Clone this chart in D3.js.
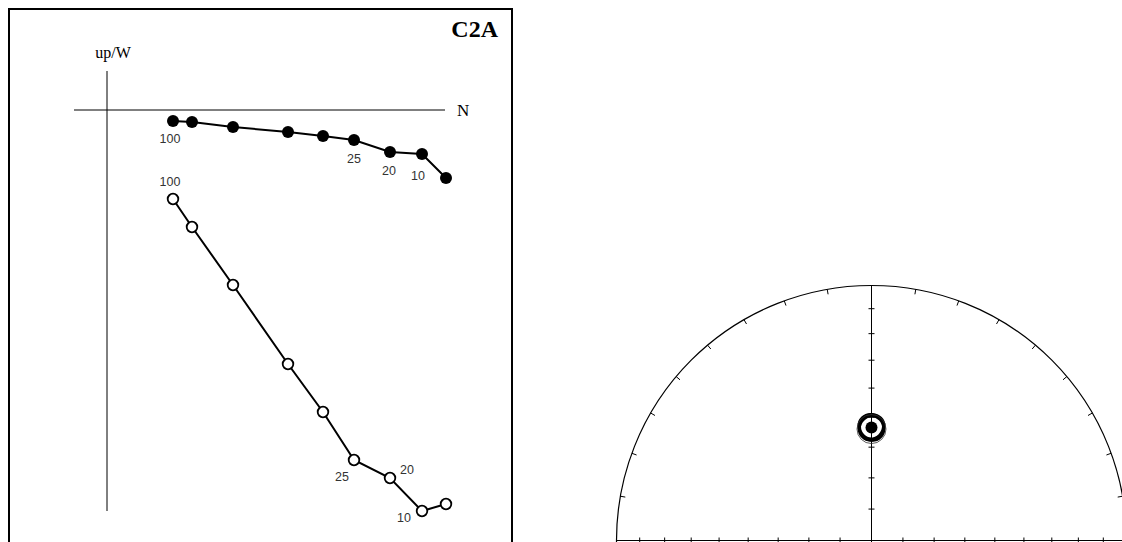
<!DOCTYPE html>
<html lang="en">
<head>
<meta charset="UTF-8">
<title>C2A</title>
<script src="https://d3js.org/d3.v7.min.js"></script>
<style>
  body { margin: 0; background: #fff; }
</style>
</head>
<body>
<script>
    // demag steps and vector components (arbitrary units)
    const steps = [100, 80, 60, 50, 40, 25, 20, 10, 5];
    const labelled = [100, 25, 20, 10];
    const north = [6.6, 8.5, 12.6, 18.1, 21.6, 24.7, 28.3, 31.5, 33.9];
    const west = [-1.1, -1.2, -1.7, -2.2, -2.6, -3.0, -4.2, -4.4, -6.8];
    const up = [-8.9, -11.7, -17.5, -25.4, -30.2, -35.0, -36.8, -40.1, -39.4];

    // stereonet directions per step (dec, inc) and mean
    const decs = [0.3, -0.4, 0.5, 0.0, -0.3, 0.4, 0.1, -0.5, 0.2];
    const incs = [53.3, 53.8, 53.1, 53.7, 53.2, 53.9, 53.5, 53.0, 53.6];
    const meanDir = { dec: 0.0, inc: 53.5 };
    const netTicks = [10, 20, 30, 40, 50, 60, 70, 80];

    const W = 1122, H = 542;
    const svg = d3.select("body").append("svg")
        .attr("width", W).attr("height", H);

    // ---------------- Zijderveld panel ----------------
    svg.append("rect")
        .attr("x", 9).attr("y", 9).attr("width", 503).attr("height", 560)
        .attr("fill", "none").attr("stroke", "#000").attr("stroke-width", 2);

    const x = d3.scaleLinear().domain([0, 10]).range([107, 207]);
    const y = d3.scaleLinear().domain([0, -10]).range([110, 210]);

    svg.append("line")
        .attr("x1", x(-3.3)).attr("x2", x(33.8)).attr("y1", y(0)).attr("y2", y(0))
        .attr("stroke", "#000").attr("stroke-width", 1);
    svg.append("line")
        .attr("x1", x(0)).attr("x2", x(0)).attr("y1", y(3.9)).attr("y2", y(-40.1))
        .attr("stroke", "#000").attr("stroke-width", 1);

    const serif = "Liberation Serif, Times New Roman, serif";
    svg.append("text").attr("x", 457).attr("y", 116)
        .attr("font-family", serif).attr("font-size", 17).text("N");
    svg.append("text").attr("x", 113).attr("y", 58)
        .attr("text-anchor", "middle")
        .attr("font-family", serif).attr("font-size", 16).text("up/W");
    svg.append("text").attr("x", 498).attr("y", 37)
        .attr("text-anchor", "end")
        .attr("font-family", serif).attr("font-weight", "bold")
        .attr("font-size", 24).text("C2A");

    const horiz = steps.map((s, i) => ({ s: s, n: north[i], v: west[i] }));
    const vert = steps.map((s, i) => ({ s: s, n: north[i], v: up[i] }));

    const line = d3.line().x(d => x(d.n)).y(d => y(d.v));

    svg.append("path").datum(horiz).attr("d", line)
        .attr("fill", "none").attr("stroke", "#000").attr("stroke-width", 2);
    svg.append("path").datum(vert).attr("d", line)
        .attr("fill", "none").attr("stroke", "#000").attr("stroke-width", 2);

    svg.selectAll(".hdot").data(horiz).enter().append("circle")
        .attr("cx", d => x(d.n)).attr("cy", d => y(d.v)).attr("r", 6)
        .attr("fill", "#000");
    svg.selectAll(".vdot").data(vert).enter().append("circle")
        .attr("cx", d => x(d.n)).attr("cy", d => y(d.v)).attr("r", 5.3)
        .attr("fill", "#fff").attr("stroke", "#000").attr("stroke-width", 1.8);

    // label placement offsets (px) from the point
    const hOff = { 100: [-3, 22], 25: [0, 23], 20: [-1, 23], 10: [-4, 26] };
    const vOff = { 100: [-3, -13], 25: [-12, 21], 20: [17, -4], 10: [-18, 11] };

    const lab = (data, off) => svg.selectAll(null)
        .data(data.filter(d => labelled.includes(d.s))).enter().append("text")
        .attr("x", d => x(d.n) + off[d.s][0]).attr("y", d => y(d.v) + off[d.s][1])
        .attr("text-anchor", "middle")
        .attr("font-family", "Liberation Sans, Arial, sans-serif")
        .attr("font-size", 12.5).attr("fill", "#333")
        .text(d => d.s);
    lab(horiz, hOff);
    lab(vert, vOff);

    // ---------------- equal-area stereonet ----------------
    const cx = 871.5, cy = 540.5, R = 255;
    const rad = Math.PI / 180;
    const eqArea = inc => R * Math.SQRT2 * Math.sin((90 - Math.abs(inc)) / 2 * rad);
    const proj = (dec, inc) => {
        const r = eqArea(inc);
        return [cx + r * Math.sin(dec * rad), cy - r * Math.cos(dec * rad)];
    };

    const net = svg.append("g");
    net.append("circle").attr("cx", cx).attr("cy", cy).attr("r", R)
        .attr("fill", "none").attr("stroke", "#000").attr("stroke-width", 1.2);
    net.append("line").attr("x1", cx - R).attr("x2", cx + R).attr("y1", cy).attr("y2", cy)
        .attr("stroke", "#000").attr("stroke-width", 1);
    net.append("line").attr("x1", cx).attr("x2", cx).attr("y1", cy - R).attr("y2", cy + R)
        .attr("stroke", "#000").attr("stroke-width", 1);

    // rim ticks every 10 degrees
    net.selectAll(".rim").data(d3.range(0, 360, 10)).enter().append("line")
        .attr("x1", a => cx + R * Math.sin(a * rad))
        .attr("y1", a => cy - R * Math.cos(a * rad))
        .attr("x2", a => cx + (R - 5) * Math.sin(a * rad))
        .attr("y2", a => cy - (R - 5) * Math.cos(a * rad))
        .attr("stroke", "#000").attr("stroke-width", 1);

    // axis ticks at inclination steps
    netTicks.forEach(inc => {
        const r = eqArea(inc);
        [[0, -r], [-r, 0], [r, 0]].forEach(([dx, dy]) => {
            net.append("line")
                .attr("x1", cx + dx - (dy ? 3 : 0)).attr("x2", cx + dx + (dy ? 3 : 0))
                .attr("y1", cy + dy - (dx ? 3 : 0)).attr("y2", cy + dy + (dx ? 3 : 0))
                .attr("stroke", "#000").attr("stroke-width", 1);
        });
    });

    const dirs = decs.map((d, i) => proj(d, incs[i]));
    net.selectAll(".dir").data(dirs).enter().append("circle")
        .attr("cx", d => d[0]).attr("cy", d => d[1]).attr("r", 12.3)
        .attr("fill", "none").attr("stroke", "#000").attr("stroke-width", 1.6);

    const m = proj(meanDir.dec, meanDir.inc);
    net.append("circle").attr("cx", m[0]).attr("cy", m[1]).attr("r", 6)
        .attr("fill", "#000");
    net.append("circle").attr("cx", m[0]).attr("cy", m[1] + 1.5).attr("r", 14.5)
        .attr("fill", "none").attr("stroke", "#333").attr("stroke-width", 0.8);
</script>
</body>
</html>
